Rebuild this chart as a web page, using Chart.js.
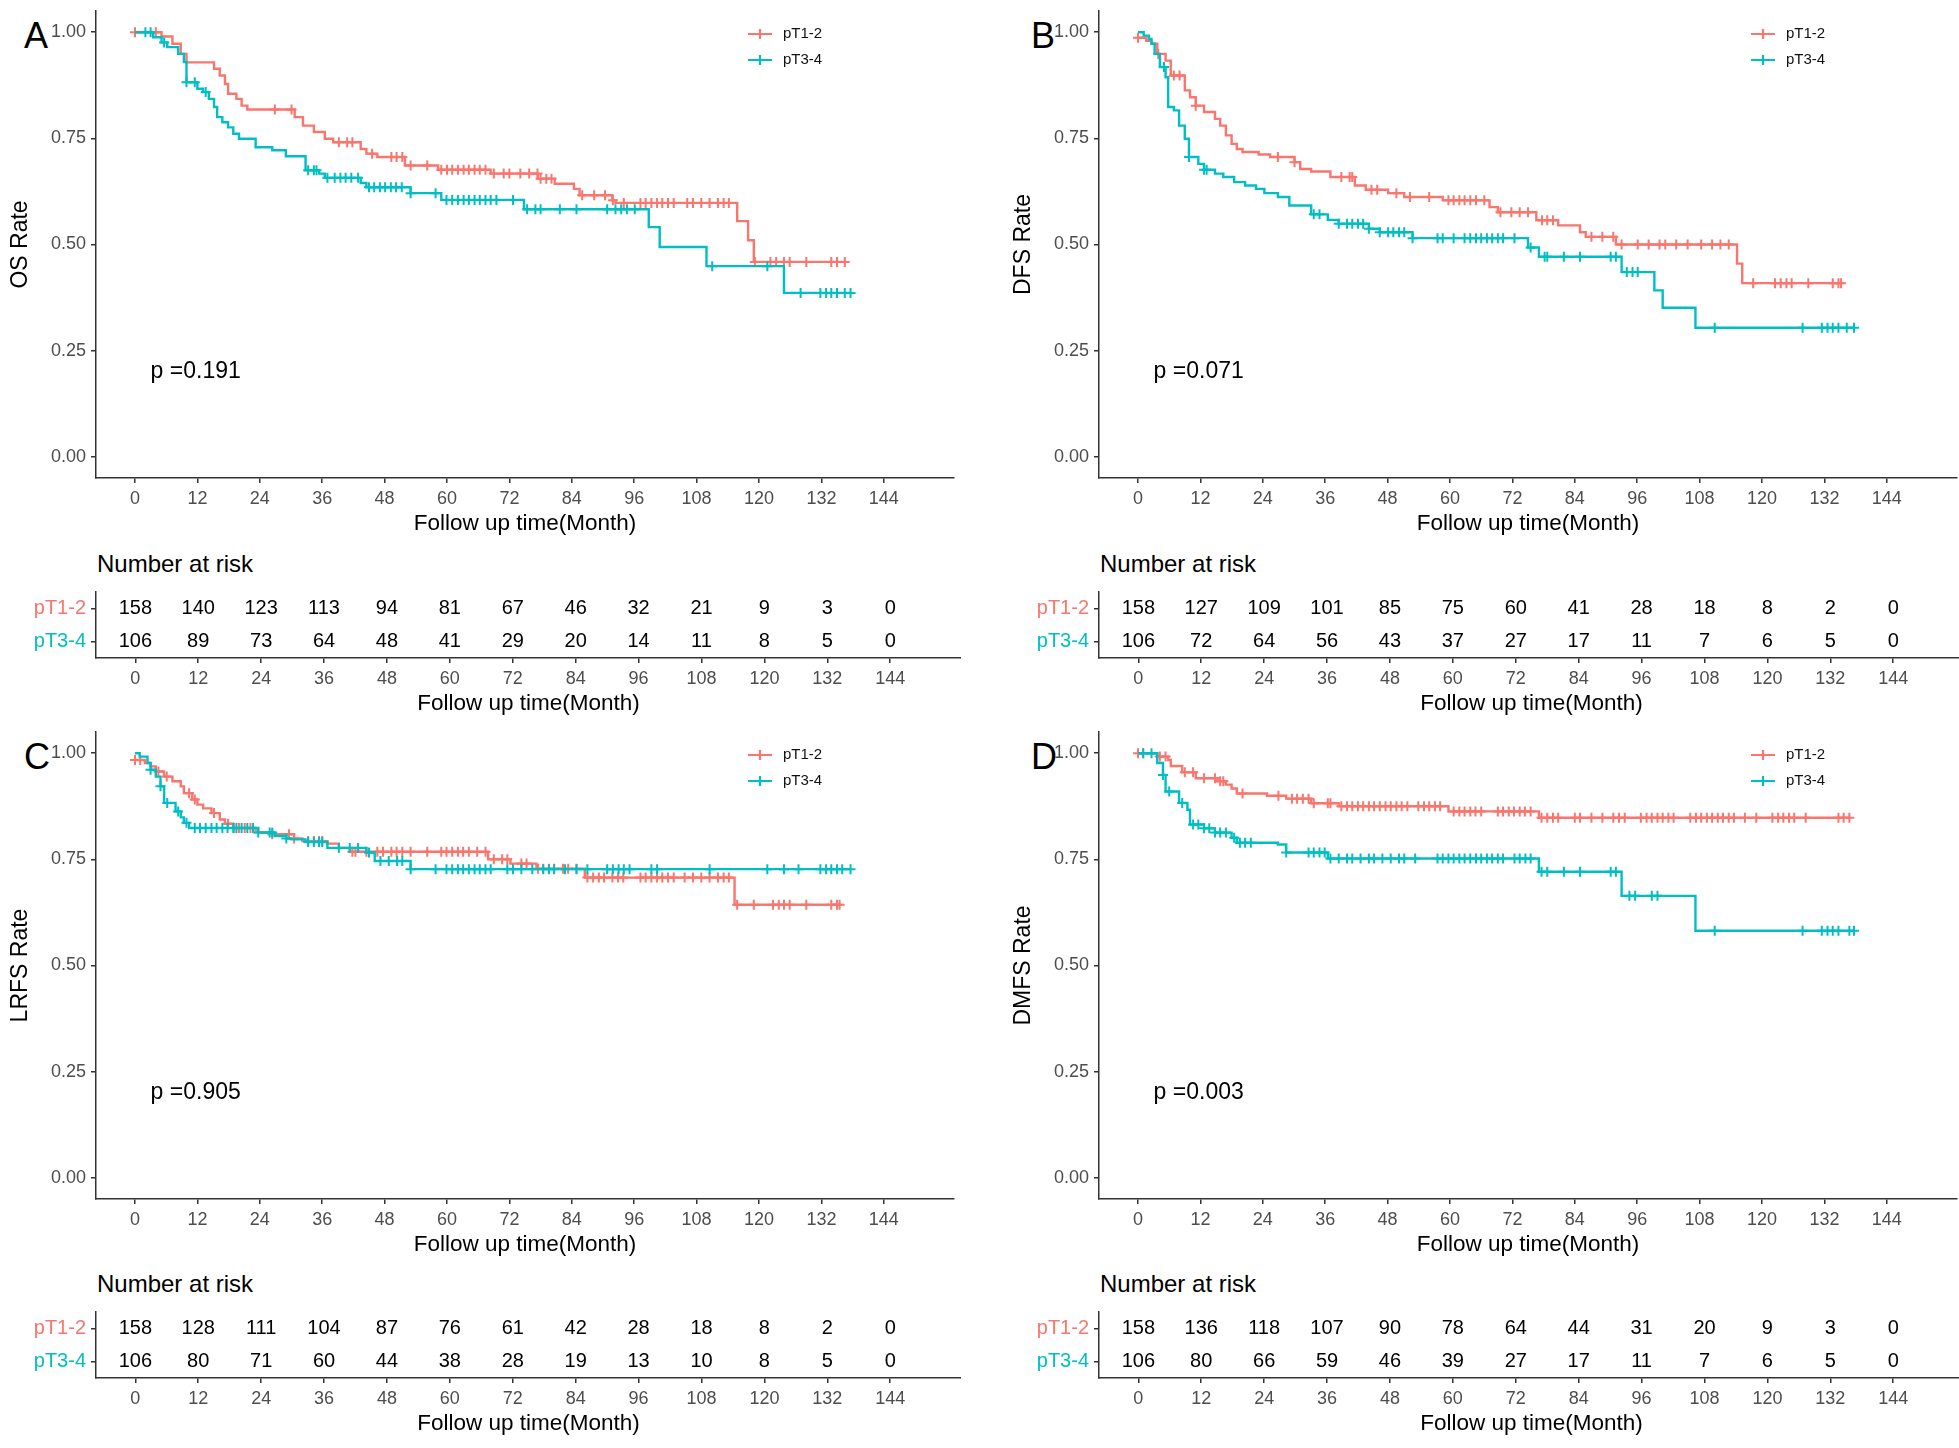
<!DOCTYPE html>
<html>
<head>
<meta charset="utf-8">
<script src="https://cdn.jsdelivr.net/npm/chart.js@4.4.1/dist/chart.umd.min.js"></script>
<style>
  html, body { margin: 0; padding: 0; background: #fff; overflow: hidden; }
  body { width: 1959px; height: 1448px; position: relative; font-family: 'Liberation Sans', Arial, sans-serif; }
  canvas { position: absolute; }
  .letter { position: absolute; font-size: 36px; line-height: 36px; color: #000; }
  .risk { position: absolute; font-size: 24px; line-height: 24px; color: #000; }
</style>
</head>
<body>
<div class="letter" style="left:24px;top:18px">A</div>
<div class="letter" style="left:1031px;top:18px">B</div>
<div class="letter" style="left:24px;top:739px">C</div>
<div class="letter" style="left:1031px;top:739px">D</div>
<div class="risk" style="left:97px;top:552px">Number at risk</div>
<div class="risk" style="left:1100px;top:552px">Number at risk</div>
<div class="risk" style="left:97px;top:1272px">Number at risk</div>
<div class="risk" style="left:1100px;top:1272px">Number at risk</div>

<canvas id="kmA" width="961" height="538" style="left:0;top:0"></canvas>
<canvas id="riskA" width="961" height="138" style="left:0;top:580px"></canvas>
<canvas id="kmB" width="961" height="538" style="left:1003px;top:0"></canvas>
<canvas id="riskB" width="961" height="138" style="left:1003px;top:580px"></canvas>
<canvas id="kmC" width="961" height="538" style="left:0;top:721px"></canvas>
<canvas id="riskC" width="961" height="138" style="left:0;top:1300px"></canvas>
<canvas id="kmD" width="961" height="538" style="left:1003px;top:721px"></canvas>
<canvas id="riskD" width="961" height="138" style="left:1003px;top:1300px"></canvas>

<script>
// Axes
const xTicks = [0, 12, 24, 36, 48, 60, 72, 84, 96, 108, 120, 132, 144];
const yTicks = [0, 0.25, 0.5, 0.75, 1];
const groups = ['pT1-2', 'pT3-4'];
const RED = '#F8766D', TEAL = '#00BFC4';

// A: OS  -- steps [month, survival], censor times
const osT12 = [[0,1],[5.1,0.99],[7.2,0.973],[8.8,0.949],[9.9,0.929],[15.2,0.914],[16.3,0.898],[17.3,0.878],[17.9,0.855],[19.5,0.843],[20.5,0.827],[21.6,0.818],[30.7,0.8],[32.3,0.78],[34.4,0.765],[36.5,0.749],[38.1,0.741],[43.4,0.725],[44.5,0.714],[46.6,0.706],[51.9,0.686],[58.3,0.676],[68.4,0.667],[77.5,0.655],[80.7,0.643],[84.4,0.631],[85.5,0.616],[91.8,0.604],[92.4,0.598],[115.8,0.555],[117.9,0.51],[119,0.459]];
const osT12Cens = [0,4,26.9,30.1,39.2,40.8,41.8,45.6,49.3,50.3,51.4,53,56.2,58.9,60,61,62.1,63.2,64.2,65.3,66.3,67.4,69,70.9,72,74.1,75.8,77.4,78,79.1,80.1,86,88.3,90.4,91.9,94,97.2,98.2,99.3,100.4,101.4,102.5,103.6,106.2,107.3,108.9,110.5,112.1,113.2,114.2,119.2,122.2,123.3,124.8,125.9,129.1,133.9,135,136.5];
const osT34 = [[0,1],[3.5,0.988],[5.1,0.976],[6.2,0.965],[8.3,0.949],[9.4,0.93],[9.9,0.882],[12,0.867],[13.1,0.859],[14.2,0.843],[15.2,0.824],[15.8,0.8],[16.8,0.788],[17.9,0.776],[18.9,0.761],[20,0.749],[23.2,0.729],[26.4,0.722],[29,0.708],[32.8,0.675],[35.4,0.667],[36.5,0.657],[43.4,0.645],[44.5,0.635],[53,0.621],[58.9,0.605],[74.8,0.583],[98.8,0.541],[100.9,0.494],[109.9,0.449],[124.8,0.386]];
const osT34Cens = [2,3,5.6,9.9,11.5,13.6,33.3,34.4,34.9,37,38.4,39.5,40.5,41.6,42.9,45,46,47.1,48.1,49.2,50.2,51.3,53,57.8,59.9,61,62.1,63.2,64.2,65.3,66.3,67.4,68.4,69.5,72.7,75.4,77,78,81.7,84.9,90.8,92.4,93.5,94.6,96.1,111,121.6,128,131.8,132.9,133.9,135,136.5,137.6];

// B: DFS
const dfsT12 = [[0,0.987],[1.6,0.98],[2.6,0.973],[3.7,0.949],[5.3,0.933],[6.3,0.898],[9,0.863],[10,0.847],[11.1,0.827],[12.7,0.812],[14.8,0.796],[15.8,0.78],[16.9,0.757],[18,0.737],[19,0.725],[20.1,0.718],[23.2,0.712],[25.4,0.706],[30.1,0.694],[31.2,0.678],[33.3,0.672],[37,0.659],[41.7,0.639],[43.8,0.629],[48.1,0.621],[51.2,0.612],[58.6,0.604],[67.6,0.588],[69.2,0.576],[76.6,0.557],[80.8,0.545],[85,0.529],[86.1,0.518],[91.9,0.5],[115.2,0.455],[116.2,0.409]];
const dfsT12Cens = [0,3.9,6.9,8,11.1,26.9,30.1,39.1,40.7,41.2,44.9,46,49.7,52.3,56,59.7,60.7,61.8,62.8,63.9,65,66.6,69.7,71.8,73.4,75,77.7,78.7,79.8,87.2,89.3,91.4,93,96.1,98.2,100.3,101.4,103.5,105.7,108.3,110.4,112,113.6,118.3,122.5,123.6,124.7,125.7,128.9,133.6,134.7,135.2];
const dfsT34 = [[0,1],[1.1,0.992],[2.1,0.984],[2.6,0.973],[3.2,0.949],[4.2,0.918],[5.3,0.894],[5.8,0.824],[6.9,0.816],[7.9,0.78],[9,0.749],[9.8,0.706],[11.6,0.69],[12.7,0.676],[14.8,0.667],[16.4,0.659],[18.5,0.647],[20.6,0.639],[22.7,0.631],[24.3,0.621],[26.9,0.612],[29.1,0.592],[33.3,0.571],[36.5,0.558],[38.6,0.549],[44.4,0.537],[46.5,0.529],[52.8,0.515],[75,0.493],[77.1,0.471],[93,0.435],[99.3,0.392],[100.9,0.351],[107.2,0.304]];
const dfsT34Cens = [5,9.8,12.7,13.2,33.8,34.9,38.6,40.2,41.2,42.3,43.3,44.4,46.5,48.1,49.1,50.2,51.2,52.8,57.6,58.6,60.7,62.8,63.9,65,66,67.1,68.1,69.2,70.2,72.4,75.5,78.2,78.7,81.9,85,90.9,91.9,94,95.1,96.1,110.9,127.8,131.5,132.6,133.6,134.7,136.3,137.7];

// C: LRFS
const lrfsT12 = [[0,0.984],[1.9,0.977],[3,0.969],[4,0.957],[5.6,0.945],[7.2,0.934],[8.8,0.922],[9.4,0.906],[11,0.891],[12,0.879],[13.1,0.87],[14.7,0.859],[16.3,0.844],[17.3,0.834],[18.9,0.824],[23.2,0.814],[26.4,0.809],[30.6,0.799],[32.2,0.793],[37,0.787],[39.2,0.777],[41.3,0.768],[67.9,0.75],[72.2,0.74],[77.2,0.728],[86.5,0.707],[115.3,0.643]];
const lrfsT12Cens = [0,1,4.5,6.1,10.4,11.5,15.2,17.9,19,20,21.1,22.2,26.4,29.6,30.6,33.3,34.4,35.4,36,41.8,42.4,44.5,46.6,47.7,49.3,50.3,51.4,53,56.2,58.9,59.9,61,62.1,63.1,64.2,65.8,67.4,69,70.6,71.6,74.3,75.3,77.5,78.5,79.6,80.6,82.3,83.3,84.9,87,88.1,89.2,90.2,91.8,92.9,93.9,97.2,98.2,99.3,100.4,101.4,102.5,103.6,105.7,107.3,108.9,110.5,112.1,113.2,114.2,115.8,119,122.7,123.8,124.8,125.9,129.1,133.9,135,135.5];
const lrfsT34 = [[0,1],[0.9,0.992],[2.4,0.977],[3,0.961],[4,0.945],[4.9,0.922],[5.6,0.883],[7.8,0.863],[8.8,0.849],[9.4,0.836],[10.4,0.824],[23.7,0.813],[26.9,0.805],[29.1,0.799],[30.1,0.797],[32.8,0.791],[37,0.777],[44.5,0.766],[46.1,0.746],[53,0.727]];
const lrfsT34Cens = [3,4.9,6.2,8.3,9.9,11.5,12.5,13.6,14.7,15.7,16.8,17.8,18.9,19.5,20.5,21.6,22.7,23.7,25.9,26.4,29.1,33.3,34.4,35.4,36,39.2,41.3,42.9,45,47.2,48.8,50.4,51.4,53,57.8,59.9,61,62.1,63.1,64.2,65.3,66.3,67.4,68.4,71.6,72.7,74.3,76.4,78.5,79.6,80.6,82.7,84.9,87,90.8,91.9,93,94,95.1,99.3,100.4,110.5,121.6,124.8,127.6,131.8,132.9,133.9,135,136,137.6];

// D: DMFS
const dmfsT12 = [[0,1],[3.7,0.992],[5.8,0.984],[6.3,0.97],[8.5,0.955],[11.1,0.941],[15.3,0.934],[16.9,0.926],[18,0.917],[19,0.905],[24.8,0.9],[28.5,0.893],[33.3,0.882],[38.6,0.875],[59.7,0.863],[77.1,0.848]];
const dmfsT12Cens = [0,1,4.2,5.3,9,10.6,12.7,14.8,15.8,16.4,20.1,27,29.6,30.6,31.7,32.8,33.8,36.5,37,39.1,40.2,41.2,42.3,43.3,44.4,45.4,46.5,47.6,48.6,49.7,50.7,51.8,53.9,55,56,57.1,58.1,60.7,61.8,62.8,63.9,64.9,66,69.2,70.2,71.3,72.3,73.4,74.4,75.5,77.6,78.7,79.8,80.8,84,85,87.2,89.3,91.4,92.5,93.6,96.7,97.8,98.8,99.9,100.9,102,103,106.2,107.3,108.3,109.4,110.4,111.5,112.5,113.6,114.6,116.7,118.9,122,123.1,124.1,125.2,126.2,128.4,134.7,135.7,136.8];
const dmfsT34 = [[0,1],[3.7,0.977],[4.8,0.949],[5.3,0.91],[7.9,0.883],[9.5,0.867],[10,0.832],[12.7,0.823],[14.8,0.813],[18,0.801],[19,0.789],[26.9,0.785],[28.5,0.766],[36.5,0.752],[77.1,0.721],[93,0.664],[107.2,0.582]];
const dmfsT34Cens = [1,2.6,4.8,6,8.5,10.6,11.6,12.7,13.7,14.8,15.8,16.9,18.5,19.6,20.6,21.7,28.5,32.8,33.8,34.9,35.9,37,38.6,40.2,41.2,42.8,44.4,45.4,47,48.6,50.2,51.2,53.3,57.6,58.6,59.7,60.7,61.8,62.8,63.9,65,66,67.1,68.1,69.2,70.2,72.4,73.4,74.5,75.5,77.6,78.7,81.9,85,90.9,91.9,94.5,95.6,98.8,99.9,110.9,127.8,131.5,132.6,133.6,134.7,136.8,137.7];

// Number at risk
const osRiskT12 = [158,140,123,113,94,81,67,46,32,21,9,3,0];
const osRiskT34 = [106,89,73,64,48,41,29,20,14,11,8,5,0];
const dfsRiskT12 = [158,127,109,101,85,75,60,41,28,18,8,2,0];
const dfsRiskT34 = [106,72,64,56,43,37,27,17,11,7,6,5,0];
const lrfsRiskT12 = [158,128,111,104,87,76,61,42,28,18,8,2,0];
const lrfsRiskT34 = [106,80,71,60,44,38,28,19,13,10,8,5,0];
const dmfsRiskT12 = [158,136,118,107,90,78,64,44,31,20,9,3,0];
const dmfsRiskT34 = [106,80,66,59,46,39,27,17,11,7,6,5,0];

const pValues = ['p =0.191', 'p =0.071', 'p =0.905', 'p =0.003'];
const yTitles = ['OS Rate', 'DFS Rate', 'LRFS Rate', 'DMFS Rate'];

Chart.defaults.font.family = "'Liberation Sans', Arial, sans-serif";

function survAt(steps, t) {
  let s = steps[0][1];
  for (const [tt, v] of steps) { if (tt <= t) s = v; else break; }
  return s;
}
function linePts(steps, cens) {
  const pts = steps.map(([x, y]) => ({x, y}));
  const end = Math.max(steps[steps.length - 1][0], ...cens);
  pts.push({x: end, y: steps[steps.length - 1][1]});
  return pts;
}
function censPts(steps, cens) {
  return cens.map(t => ({x: t, y: survAt(steps, t)}));
}

const axisGrid = { drawOnChartArea: false, drawTicks: true, tickLength: 5, color: '#333', lineWidth: 1.5 };
const axisBorder = { display: true, color: '#333', width: 1.5 };

function xScale() {
  return {
    type: 'linear', min: -7.5, max: 157.5,
    afterBuildTicks: s => { s.ticks = xTicks.map(v => ({value: v})); },
    afterFit: s => { s.height = 60; s.paddingLeft = 0; s.paddingRight = 0; },
    grid: axisGrid, border: axisBorder,
    ticks: { font: {size: 18}, color: '#4d4d4d', padding: 5, maxRotation: 0, autoSkip: false },
    title: { display: true, text: 'Follow up time(Month)', font: {size: 22.5}, color: '#000', padding: {top: 0, bottom: 1} }
  };
}

// p-value + legend inside plot
const annotPlugin = {
  id: 'annot',
  afterDatasetsDraw(chart, args, opts) {
    const {ctx, chartArea: a, scales: {x, y}} = chart;
    ctx.save();
    ctx.fillStyle = '#000';
    ctx.font = "23px 'Liberation Sans', Arial, sans-serif";
    ctx.textAlign = 'left';
    ctx.textBaseline = 'middle';
    ctx.fillText(opts.p, x.getPixelForValue(3), y.getPixelForValue(0.2));
    // legend
    const cols = [RED, TEAL];
    groups.forEach((g, i) => {
      const cx = a.left + 664, cy = a.top + 23 + i * 26;
      ctx.strokeStyle = cols[i];
      ctx.lineWidth = 2.2;
      ctx.beginPath();
      ctx.moveTo(cx - 12, cy); ctx.lineTo(cx + 12, cy);
      ctx.moveTo(cx, cy - 5); ctx.lineTo(cx, cy + 5);
      ctx.stroke();
      ctx.fillStyle = '#111';
      ctx.font = "15px 'Liberation Sans', Arial, sans-serif";
      ctx.fillText(g, cx + 23, cy);
    });
    ctx.restore();
  }
};

function kmChart(id, t12, c12, t34, c34, yTitle, p) {
  new Chart(document.getElementById(id), {
    type: 'scatter',
    data: {
      datasets: [
        { data: linePts(t34, c34), showLine: true, stepped: true, borderColor: TEAL, borderWidth: 2.4, pointRadius: 0, pointHoverRadius: 0, order: 1 },
        { data: censPts(t34, c34), showLine: false, pointStyle: 'cross', pointRadius: 5, pointHoverRadius: 5, borderColor: TEAL, borderWidth: 2, order: 1 },
        { data: linePts(t12, c12), showLine: true, stepped: true, borderColor: RED, borderWidth: 2.4, pointRadius: 0, pointHoverRadius: 0, order: 2 },
        { data: censPts(t12, c12), showLine: false, pointStyle: 'cross', pointRadius: 5, pointHoverRadius: 5, borderColor: RED, borderWidth: 2, order: 2 }
      ]
    },
    options: {
      responsive: false, animation: false,
      layout: { padding: { top: 11, left: 0, right: 0, bottom: 0 } },
      plugins: { legend: { display: false }, tooltip: { enabled: false }, annot: { p } },
      scales: {
        x: xScale(),
        y: {
          type: 'linear', min: -0.05, max: 1.05,
          afterBuildTicks: s => { s.ticks = yTicks.map(v => ({value: v})); },
          afterFit: s => { s.width = 96; s.paddingTop = 0; s.paddingBottom = 0; },
          grid: axisGrid, border: axisBorder,
          ticks: { font: {size: 18}, color: '#4d4d4d', padding: 5, callback: v => v.toFixed(2) },
          title: { display: true, text: yTitle, font: {size: 23}, color: '#000', padding: {top: 7, bottom: 0} }
        }
      }
    },
    plugins: [annotPlugin]
  });
}

// numbers in the risk table
const riskPlugin = {
  id: 'riskNums',
  afterDraw(chart, args, opts) {
    const {ctx, scales: {x, y}} = chart;
    ctx.save();
    ctx.fillStyle = '#000';
    ctx.font = "20px 'Liberation Sans', Arial, sans-serif";
    ctx.textAlign = 'center';
    ctx.textBaseline = 'middle';
    opts.rows.forEach((row, g) => {
      row.forEach((n, i) => ctx.fillText(String(n), x.getPixelForValue(xTicks[i]), y.getPixelForValue(g)));
    });
    ctx.restore();
  }
};

function riskChart(id, r12, r34) {
  new Chart(document.getElementById(id), {
    type: 'scatter',
    data: { datasets: [{ data: [] }] },
    options: {
      responsive: false, animation: false,
      layout: { padding: { top: 12, left: 0, right: 0, bottom: 0 } },
      plugins: { legend: { display: false }, tooltip: { enabled: false }, riskNums: { rows: [r12, r34] } },
      scales: {
        x: xScale(),
        y: {
          type: 'category', labels: groups, offset: true,
          afterFit: s => { s.width = 96; s.paddingTop = 0; s.paddingBottom = 0; },
          grid: axisGrid, border: axisBorder,
          ticks: { font: {size: 20}, padding: 5, color: c => [RED, TEAL][c.index] }
        }
      }
    },
    plugins: [riskPlugin]
  });
}

kmChart('kmA', osT12, osT12Cens, osT34, osT34Cens, yTitles[0], pValues[0]);
kmChart('kmB', dfsT12, dfsT12Cens, dfsT34, dfsT34Cens, yTitles[1], pValues[1]);
kmChart('kmC', lrfsT12, lrfsT12Cens, lrfsT34, lrfsT34Cens, yTitles[2], pValues[2]);
kmChart('kmD', dmfsT12, dmfsT12Cens, dmfsT34, dmfsT34Cens, yTitles[3], pValues[3]);
riskChart('riskA', osRiskT12, osRiskT34);
riskChart('riskB', dfsRiskT12, dfsRiskT34);
riskChart('riskC', lrfsRiskT12, lrfsRiskT34);
riskChart('riskD', dmfsRiskT12, dmfsRiskT34);
</script>
</body>
</html>
